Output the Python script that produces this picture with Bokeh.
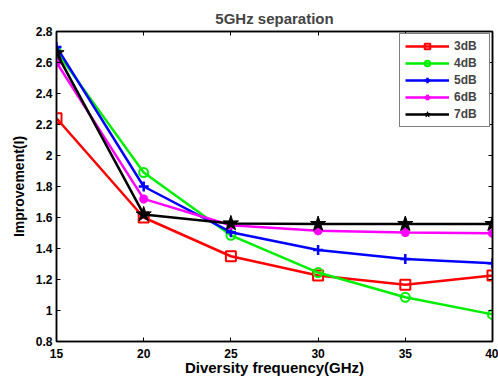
from bokeh.plotting import figure
from bokeh.models import Range1d, FixedTicker, LinearAxis, Legend, LegendItem
from bokeh.embed import file_html
from bokeh.resources import INLINE

freq = [15, 20, 25, 30, 35, 40]
s3 = [2.24, 1.60, 1.35, 1.226, 1.166, 1.226]
s4 = [2.67, 1.89, 1.485, 1.245, 1.085, 0.975]
s5 = [2.70, 1.80, 1.505, 1.39, 1.333, 1.305]
s6 = [2.60, 1.72, 1.55, 1.515, 1.503, 1.498]
s7 = [2.66, 1.62, 1.562, 1.558, 1.558, 1.558]
names = ["3dB", "4dB", "5dB", "6dB", "7dB"]
xticks = [15, 20, 25, 30, 35, 40]
yticks = [0.8, 1.0, 1.2, 1.4, 1.6, 1.8, 2.0, 2.2, 2.4, 2.6, 2.8]
ylabels = ["0.8", "1", "1.2", "1.4", "1.6", "1.8", "2", "2.2", "2.4", "2.6", "2.8"]

FONT = "Liberation Sans"

p = figure(width=498, height=379, output_backend="svg", toolbar_location=None,
           x_range=Range1d(15, 40), y_range=Range1d(0.8, 2.8),
           min_border_left=56, min_border_right=6, min_border_top=31, min_border_bottom=38)
p.title.text = "5GHz separation"
p.title.align = "center"
p.title.text_font = FONT
p.title.text_font_size = "15px"
p.title.text_font_style = "bold"
p.title.offset = 0
p.grid.visible = False
p.outline_line_color = "black"
p.outline_line_width = 1.5
p.background_fill_color = "white"
p.border_fill_color = "white"

def style_axis(ax, labels=True):
    ax.major_tick_in = 4
    ax.major_tick_out = 0
    ax.minor_tick_in = 0
    ax.minor_tick_out = 0
    ax.axis_line_color = "black"
    ax.axis_line_width = 1.5
    ax.major_label_text_font = FONT
    ax.major_label_text_font_style = "bold"
    ax.major_label_text_font_size = "12px"
    ax.major_label_text_color = "black"
    ax.axis_label_text_font = FONT
    ax.axis_label_text_font_style = "bold"
    ax.axis_label_text_font_size = "15px"
    ax.axis_label_text_color = "black"
    if not labels:
        ax.major_label_text_font_size = "0px"
        ax.major_label_text_alpha = 0

xa = p.xaxis[0]
xa.ticker = FixedTicker(ticks=xticks)
xa.axis_label = "Diversity frequency(GHz)"
xa.axis_label_standoff = -2
xa.major_label_standoff = 7
style_axis(xa)
ya = p.yaxis[0]
ya.ticker = FixedTicker(ticks=yticks)
ya.major_label_overrides = {v: l for v, l in zip(yticks, ylabels)}
ya.axis_label = "Improvement(I)"
ya.axis_label_standoff = 6
ya.major_label_standoff = 4
style_axis(ya)
ya.axis_label_text_font_size = "14px"

top = LinearAxis(ticker=FixedTicker(ticks=xticks))
style_axis(top, labels=False)
p.add_layout(top, "above")
right = LinearAxis(ticker=FixedTicker(ticks=yticks))
style_axis(right, labels=False)
p.add_layout(right, "right")

lw = 2.5
GREEN = "#00ee00"
r1 = p.line(freq, s3, color="red", line_width=lw)
m1 = p.scatter(freq, s3, marker="square", size=10, line_color="red", fill_color=None, line_width=2)
r2 = p.line(freq, s4, color=GREEN, line_width=lw)
m2 = p.scatter(freq, s4, marker="circle", size=9, line_color=GREEN, fill_color=None, line_width=2)
r3 = p.line(freq, s5, color="blue", line_width=lw)
m3 = p.scatter(freq, s5, marker="cross", size=10, line_color="blue", line_width=2.5)
r4 = p.line(freq, s6, color="magenta", line_width=lw)
m4 = p.scatter(freq, s6, marker="asterisk", size=9, line_color="magenta", line_width=3)
r5 = p.line(freq, s7, color="black", line_width=lw)
m5 = p.scatter(freq, s7, marker="star", size=16, line_color="black", fill_color="black", line_width=1)

legend = Legend(items=[
    LegendItem(label=names[0], renderers=[r1, m1]),
    LegendItem(label=names[1], renderers=[r2, m2]),
    LegendItem(label=names[2], renderers=[r3, m3]),
    LegendItem(label=names[3], renderers=[r4, m4]),
    LegendItem(label=names[4], renderers=[r5, m5]),
], location="top_right")
legend.border_line_color = "black"
legend.border_line_width = 1.5
legend.label_text_font = FONT
legend.label_text_font_style = "bold"
legend.label_text_font_size = "12px"
legend.glyph_width = 44
legend.glyph_height = 14
legend.label_height = 14
legend.label_width = 30
legend.spacing = 3
legend.padding = 5
legend.margin = 2
legend.label_standoff = 5
legend.background_fill_alpha = 1
p.add_layout(legend)

open("out.html", "w").write(file_html(p, INLINE))
